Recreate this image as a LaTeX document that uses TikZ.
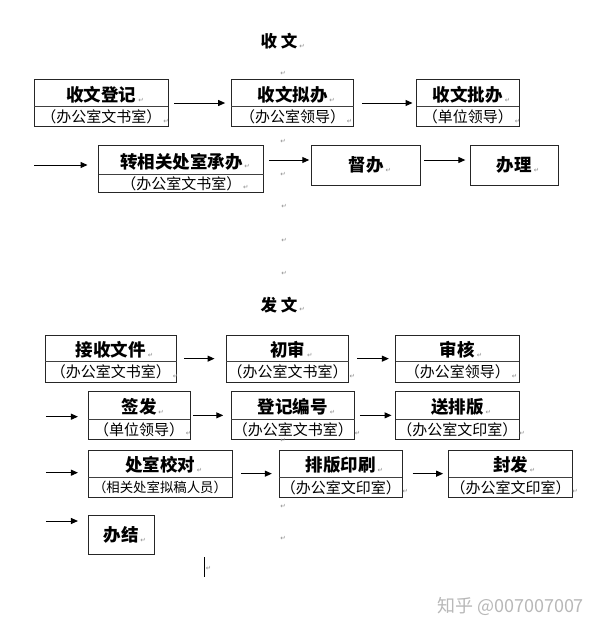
\documentclass[tikz,border=0pt]{standalone}
\usepackage{fontspec}
\newfontfamily\cjk{Noto Sans CJK SC}
\newfontfamily\symf{DejaVu Sans}
\usetikzlibrary{arrows.meta,calc,fit}
\tikzset{
  box/.style={draw=black!85, line width=0.9pt, inner sep=0pt},
  divl/.style={draw=black!75, line width=0.9pt},
  maintext/.style={font=\cjk\bfseries\fontsize{17.5}{17.5}\selectfont, inner sep=0pt},
  subtext/.style={font=\cjk\fontsize{15}{15}\selectfont, inner sep=0pt},
  titletext/.style={font=\cjk\bfseries\fontsize{16.5}{16.5}\selectfont, inner sep=0pt},
  arr/.style={-{Triangle[length=7pt,width=6pt]}, line width=1pt},
  pm/.style={font=\symf\fontsize{6.5}{6.5}\selectfont, text=black!45, inner sep=0pt},
  wmark/.style={font=\cjk\fontsize{18}{18}\selectfont, text=black!28, inner sep=0pt},
}
% two-part box: name, x1, x2, ytop, ybot, ydiv, main, sub, extra sub style
\newcommand\tbox[9]{%
  \node[box, fit={(#2,#4) (#3,#5)}] (#1) {};
  \draw[divl] (#2,#6) -- (#3,#6);
  \node[maintext] (#1-t) at ($(#1.north)!0.5!(#1.north |- 0,#6)+(0,1.8)$) {#7};
  \node[subtext,#9] (#1-s) at ($(#1.south)!0.5!(#1.south |- 0,#6)$) {#8};
}
% one-part box: name, x1, x2, ytop, ybot, text
\newcommand\onebox[6]{%
  \node[box, fit={(#2,#4) (#3,#5)}] (#1) {};
  \node[maintext] (#1-t) at (#1.center) {#6};
}
\begin{document}
\begin{tikzpicture}[x=1pt,y=-1pt]
\fill[white] (0,0) rectangle (600,630);
\useasboundingbox (0,0) rectangle (600,630);

% ---------- 收文 ----------
\node[titletext] (t1) at (279,41.5) {收\hspace{4pt}文};

\tbox{A}{34.4}{168.3}{79.3}{126.7}{106.7}{收文登记}{（办公室文书室）}{}
\tbox{B}{231.4}{353.7}{79.3}{126.7}{106.7}{收文拟办}{（办公室领导）}{}
\tbox{C}{416.8}{519}{79.3}{126.7}{106.7}{收文批办}{（单位领导）}{}
\tbox{D}{98.7}{263.9}{145.7}{192.7}{174}{转相关处室承办}{（办公室文书室）}{}
\onebox{E}{311.7}{420.7}{145.7}{185}{督办}
\onebox{F}{470.4}{558.3}{145.7}{185}{办理}

\draw[arr, shorten <=5.7pt, shorten >=5.8pt] (A) -- (B);
\draw[arr, shorten <=7.7pt, shorten >=3.8pt] (B) -- (C);
\coordinate (s1) at (34.4,165);
\draw[arr, shorten >=10.7pt] (s1) -- (s1 -| D.west);
\draw[arr, shorten <=5pt, shorten >=2pt] ([yshift=9.2pt]D.east) -- ([yshift=9.2pt]D.east -| E.west);
\draw[arr, shorten <=3pt, shorten >=4.6pt] ([yshift=5.35pt]E.east) -- ([yshift=5.35pt]F.west);

% ---------- 发文 ----------
\node[titletext] (t2) at (279,305) {发\hspace{4pt}文};

\tbox{G}{45}{176.7}{335}{382.3}{361.7}{接收文件}{（办公室文书室）}{}
\tbox{H}{226.4}{348.8}{335}{382.3}{361.7}{初审}{（办公室文书室）}{}
\tbox{I}{395.8}{519}{335}{382.3}{361.7}{审核}{（办公室领导）}{}
\tbox{J}{88}{190}{391.7}{439}{419.3}{签发}{（单位领导）}{}
\tbox{K}{231.4}{354.5}{391.7}{439}{419.3}{登记编号}{（办公室文书室）}{}
\tbox{L}{395.8}{519}{391.7}{439}{419.3}{送排版}{（办公室文印室）}{}
\tbox{M}{88}{232}{450}{497.3}{477.3}{处室校对}{（相关处室拟稿人员）}{font=\cjk\fontsize{13.4}{13.4}\selectfont}
\tbox{N}{279.2}{402.3}{450}{497.3}{477.3}{排版印刷}{（办公室文印室）}{}
\tbox{O}{448.6}{572.5}{450}{497.3}{477.3}{封发}{（办公室文印室）}{}
\onebox{P}{88}{154}{515}{554.3}{办结}

\draw[arr, shorten <=6.9pt, shorten >=11.4pt] (G) -- (H);
\draw[arr, shorten <=8pt, shorten >=6.5pt] (H) -- (I);
\coordinate (s2) at (45.9,416.7);
\draw[arr, shorten >=9.6pt] (s2) -- (s2 -| J.west);
\draw[arr, shorten <=2.4pt, shorten >=7.7pt] (J) -- (K);
\draw[arr, shorten <=5pt, shorten >=3.8pt] (K) -- (L);
\coordinate (s3) at (45.9,472.7);
\draw[arr, shorten >=9.6pt] (s3) -- (s3 -| M.west);
\draw[arr, shorten <=9pt, shorten >=6.9pt] (M) -- (N);
\draw[arr, shorten <=9.9pt, shorten >=5pt] (N) -- (O);
\coordinate (s4) at (45.9,521);
\draw[arr, shorten >=9.6pt] (s4) -- (s4 -| P.west);

% ---------- paragraph marks ----------
\foreach \n in {t1,t2,A-t,A-s,B-t,B-s,C-t,C-s,D-t,D-s,E-t,F-t,G-t,G-s,H-t,H-s,I-t,I-s,J-t,J-s,K-t,K-s,L-t,L-s,M-t,N-t,N-s,O-t,O-s,P-t}
  \node[pm, anchor=south west] at ([xshift=1.5pt,yshift=1pt]\n.south east) {↵};
\foreach \p in {(283,73.3),(283,141.7),(283,174),(284,206.7),(284,240),(284,273.3),(283,440),(283,506),(283,538.3),(208.5,568)}
  \node[pm] at \p {↵};

% text cursor
\draw[line width=1.6pt] (204.5,557) -- (204.5,577);

% watermark
\node[wmark] (wm) at (510.5,606.5) {知乎 @007007007};
\end{tikzpicture}
\end{document}
